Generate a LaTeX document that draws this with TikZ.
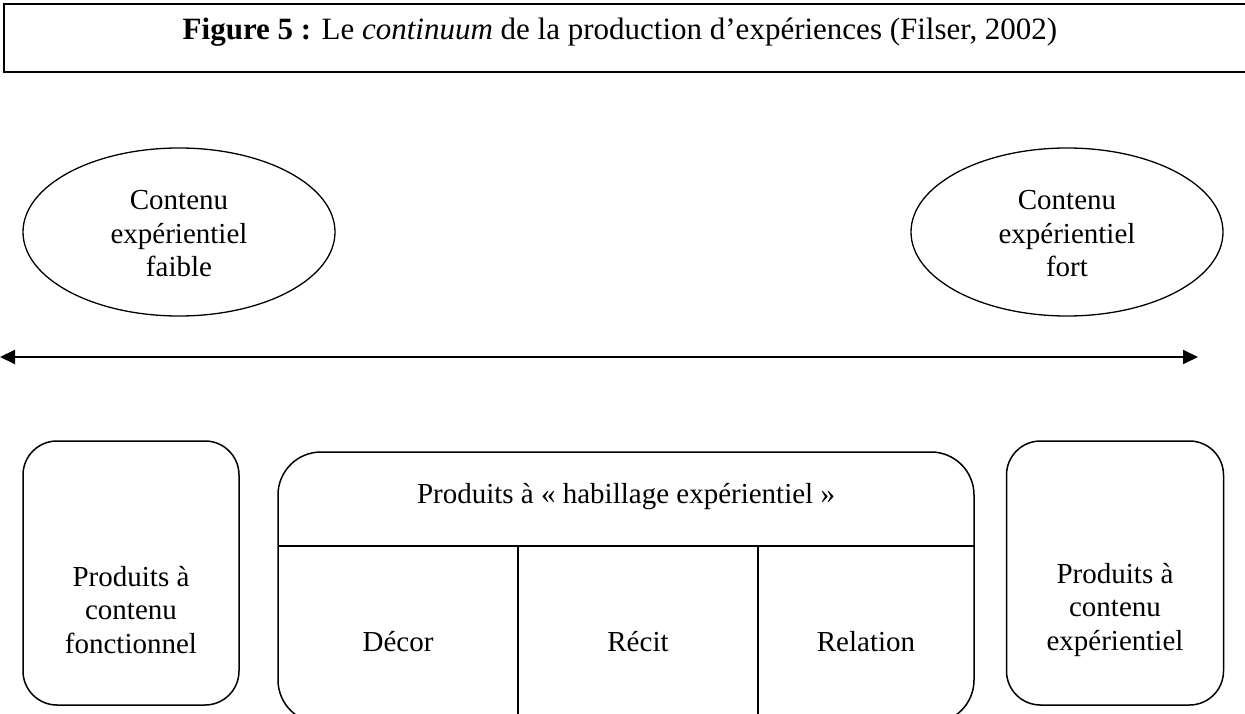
\documentclass[tikz,border=0pt]{standalone}
\usepackage{fontspec}
\setmainfont{Liberation Serif}
\usetikzlibrary{shapes.geometric,arrows.meta}
\tikzset{
  txt/.style={font=\fontsize{29}{33.5}\selectfont, align=center, inner sep=0pt},
  ttl/.style={font=\fontsize{31}{36}\selectfont, inner sep=0pt},
  oval/.style={draw, ellipse, line width=1.3pt, minimum width=312pt, minimum height=168pt, inner sep=0pt},
  rbox/.style={draw, line width=1.5pt, inner sep=0pt},
  sep/.style={line width=1.3pt},
  axis/.style={line width=2pt, {Triangle[length=15pt,width=14pt]}-{Triangle[length=15pt,width=14pt]}}
}
\begin{document}
\begin{tikzpicture}[x=1pt,y=-1pt]
\useasboundingbox (0,0) rectangle (1245,714);
\clip (0,0) rectangle (1245,714);
% title box
\node[draw, line width=2pt, minimum width=1260pt, minimum height=68pt, anchor=north west, inner sep=0pt] (title) at (3,3) {};
\node[ttl, anchor=base] (titletxt) at (620,40) {\textbf{Figure 5 :} Le \textit{continuum} de la production d’expériences (Filser, 2002)};
% ellipses
\node[oval] (eL) at (179,232) {};
\node[txt] (eLt) at (179,234) {Contenu\\expérientiel\\faible};
\node[oval] (eR) at (1067,232) {};
\node[txt] (eRt) at (1067,234) {Contenu\\expérientiel\\fort};
% axis
\coordinate (aL) at (0,357);
\coordinate (aR) at (1198,357);
\draw[axis] (aL) -- (aR);
% left box
\node[rbox, rounded corners=34pt, minimum width=216pt, minimum height=264pt] (lbox) at (131,573) {};
\node[txt] (lboxt) at (131,610) {Produits à\\contenu\\fonctionnel};
% right box
\node[rbox, rounded corners=34pt, minimum width=217pt, minimum height=264pt] (rbox) at (1115,573) {};
\node[txt] (rboxt) at (1115,610) {Produits à\\contenu\\expérientiel};
% middle box
\node[rbox, rounded corners=43pt, minimum width=696pt, minimum height=271pt] (mbox) at (626,587.5) {};
\coordinate (hL) at (278,546);
\coordinate (hR) at (974,546);
\draw[sep] (hL) -- (hR);
\coordinate (v1t) at (518,546);
\coordinate (v1b) at (518,723);
\coordinate (v2t) at (758,546);
\coordinate (v2b) at (758,723);
\draw[sep] (v1t) -- (v1b);
\draw[sep] (v2t) -- (v2b);
\node[txt] (mtitle) at (626,497) {Produits à « habillage expérientiel »};
\node[txt] (decor) at (398,642) {Décor};
\node[txt] (recit) at (638,642) {Récit};
\node[txt] (relation) at (866,642) {Relation};
\end{tikzpicture}
\end{document}
